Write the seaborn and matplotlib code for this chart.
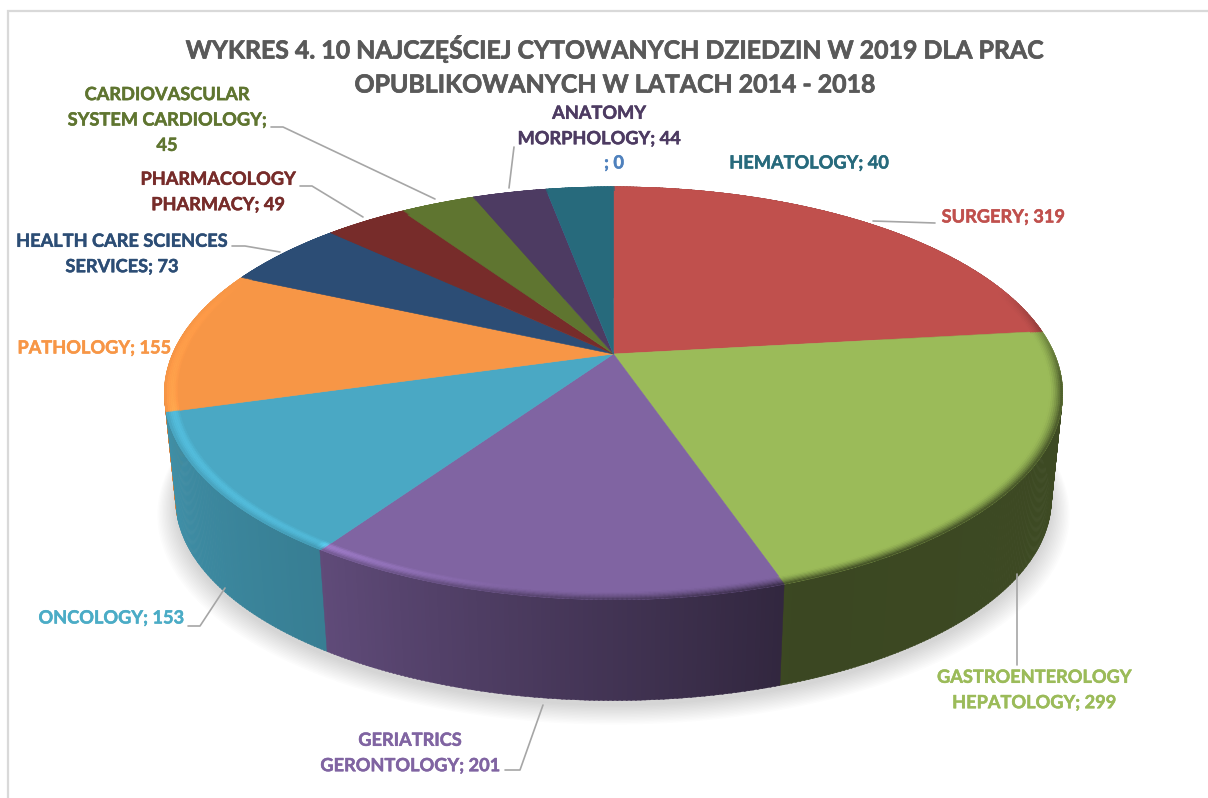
import numpy as np
import matplotlib
matplotlib.use("Agg")
import matplotlib.pyplot as plt
import matplotlib.patheffects as pe
import seaborn as sns
from matplotlib.collections import PolyCollection
from matplotlib.transforms import Transform
from matplotlib.colors import to_rgb

# ---- data ----
names = ["SURGERY", "GASTROENTEROLOGY\nHEPATOLOGY", "GERIATRICS\nGERONTOLOGY", "ONCOLOGY",
         "PATHOLOGY", "HEALTH CARE SCIENCES\nSERVICES", "PHARMACOLOGY\nPHARMACY",
         "CARDIOVASCULAR\nSYSTEM CARDIOLOGY", "ANATOMY\nMORPHOLOGY", "", "HEMATOLOGY"]
values = [319, 299, 201, 153, 155, 73, 49, 45, 44, 0, 40]
colors = ["#c0504d", "#9bbb59", "#8064a2", "#4aa8c4", "#f79646", "#2c4d75",
          "#772c2a", "#5f7530", "#4d3b62", "#4f81bd", "#276a7c"]
label_colors = ["#c0504d", "#9bbb59", "#8064a2", "#4bacc6", "#f79646", "#2c4d75",
                "#772c2a", "#5f7530", "#4d3b62", "#4f81bd", "#276a7c"]
label_seps = [" ", " ", " ", " ", " ", " ", " ", "\n", " ", " ", " "]
label_xy = [(1003, 217), (1034, 690), (410, 753), (111, 618), (94, 348), (122, 254),
            (218, 192), (167, 120), (599, 126), (614, 163), (809, 163)]
title_lines = ["WYKRES 4. 10 NAJCZĘŚCIEJ CYTOWANYCH DZIEDZIN W 2019 DLA PRAC",
               "OPUBLIKOWANYCH W LATACH 2014 - 2018"]
leaders = [[(873, 221), (935, 223)], [(1017, 574), (1017, 665)],
           [(543, 705), (520, 770), (505, 770)], [(225, 588), (200, 626), (188, 626)],
           [(280, 252), (245, 246), (232, 246)], [(363, 217), (312, 186), (300, 186)],
           [(435, 199), (283, 127), (271, 127)], [(509, 188), (514, 147)]]

# ---- projection of the unit disc ----
CX, CY, A, B, K = 613.5, 354.0, 441.0, 199.0, 0.19
SB, DROP = 0.975, 107.0


def project(u, v, scale=1.0, drop=0.0):
    d = 1 + K * v
    return CX + scale * A * u / d, CY - scale * B * v / d + drop


class Perspective(Transform):
    input_dims = output_dims = 2
    is_separable = False
    has_inverse = False

    def transform_non_affine(self, values):
        values = np.asarray(values, float)
        x, y = project(values[:, 0], values[:, 1])
        return np.column_stack([x, y])


sns.set_theme(style="white")
plt.rcParams["font.family"] = ["Lato", "Noto Sans", "DejaVu Sans"]
palette = sns.color_palette(colors)

fig, ax = plt.subplots(figsize=(12.08, 7.98), dpi=100)
fig.subplots_adjust(0, 0, 1, 1)

wedges, _ = ax.pie(values, colors=palette, startangle=90, counterclock=False, radius=1.0,
                   wedgeprops=dict(linewidth=0.4, zorder=5))
ax.set_aspect("auto")
ax.set_xlim(0, 1208)
ax.set_ylim(798, 0)
ax.axis("off")
P = Perspective() + ax.transData
for w, c in zip(wedges, palette):
    w.set_transform(P)
    w.set_edgecolor(c)

frac = np.cumsum(values) / np.sum(values)
edges = np.concatenate([[0], frac]) * 360


def slice_color(theta):
    i = min(np.searchsorted(edges[1:], theta, side="right"), len(values) - 1)
    return np.array(to_rgb(colors[i]))


wall_th = [0, 100, 160, 214, 254, 285, 360]
wall_sh = [0.4, 0.40, 0.38, 0.75, 0.86, 1.0, 1.0]
glow_th = [0, 170, 190, 214, 215, 254, 258, 295, 360]
glow_v = [0, 0, 0.05, 0.30, 0.14, 0.14, 0.10, 0, 0]
dark_th = [0, 70, 98, 150, 190, 225, 360]
dark_v = [0, 0, 0.9, 1.0, 0.8, 0.25, 0.0]

# soft shadow below the disc
th = np.radians(np.linspace(0, 360, 361))
for i in range(14):
    s = SB * (1 + 0.0032 * i)
    x, y = project(np.sin(th), np.cos(th), s, DROP + 5 + 0.7 * i)
    ax.fill(x, y, color="black", alpha=0.0105, lw=0, zorder=1)

# side wall, drawn in narrow strips from the back of the disc to the front
step = 0.5
ts = np.arange(0, 360, step)
order = np.argsort(np.cos(np.radians(ts + step / 2)))[::-1]
polys, cols = [], []
for t in ts[order]:
    a = np.radians([t, t + step * 1.3])
    x1, y1 = project(np.sin(a), np.cos(a))
    x2, y2 = project(np.sin(a[::-1]), np.cos(a[::-1]), SB, DROP)
    polys.append(np.column_stack([np.r_[x1, x2], np.r_[y1, y2]]))
    cols.append(slice_color(t + step / 2) * np.interp(t, wall_th, wall_sh))
ax.add_collection(PolyCollection(polys, facecolors=cols, edgecolors=cols, linewidths=0.3, zorder=3))

# bevelled rim on the top face
rings = np.linspace(0.972, 1.0, 8)
polys, cols = [], []
for r0, r1 in zip(rings[:-1], rings[1:]):
    tm = (0.5 * (r0 + r1) - rings[0]) / (rings[-1] - rings[0])
    for t in ts:
        a = np.radians([t, t + step * 1.3])
        xa, ya = project(r0 * np.sin(a), r0 * np.cos(a))
        xb, yb = project(r1 * np.sin(a[::-1]), r1 * np.cos(a[::-1]))
        base = slice_color(t + step / 2)
        g = np.interp(t, glow_th, glow_v) * np.sin(np.pi * tm ** 0.9)
        d = np.interp(t, dark_th, dark_v) * tm ** 1.6
        wall = base * np.interp(t, wall_th, wall_sh)
        c = base * (1 + g)
        c = c * (1 - d) + wall * d
        polys.append(np.column_stack([np.r_[xa, xb], np.r_[ya, yb]]))
        cols.append(np.clip(c, 0, 1))
ax.add_collection(PolyCollection(polys, facecolors=cols, edgecolors=cols, linewidths=0.3, zorder=6))

# frame of the chart area
ax.plot([8, 8, 1208], [798, 11, 11], color="#d9d9d9", lw=1.6, zorder=0, solid_joinstyle="miter")

# leader lines
for pts in leaders:
    xs, ys = zip(*pts)
    ax.plot(xs, ys, color="#a6a6a6", lw=1.2, zorder=7)

# title and labels
for line, y in zip(title_lines, (49, 85)):
    t = ax.text(615, y, line, ha="center", va="center", fontsize=17.9, fontweight="bold",
                color="#595959", zorder=8)
    t.set_path_effects([pe.withStroke(linewidth=0.5, foreground="#595959")])
for name, v, sep, c, (x, y) in zip(names, values, label_seps, label_colors, label_xy):
    t = ax.text(x, y, f"{name};{sep}{v}", ha="center", va="center", fontsize=13.1, fontweight="bold",
                color=c, linespacing=1.6, zorder=8)
    t.set_path_effects([pe.withStroke(linewidth=0.35, foreground=c)])

fig.savefig("out.png", dpi=100, facecolor="white")
